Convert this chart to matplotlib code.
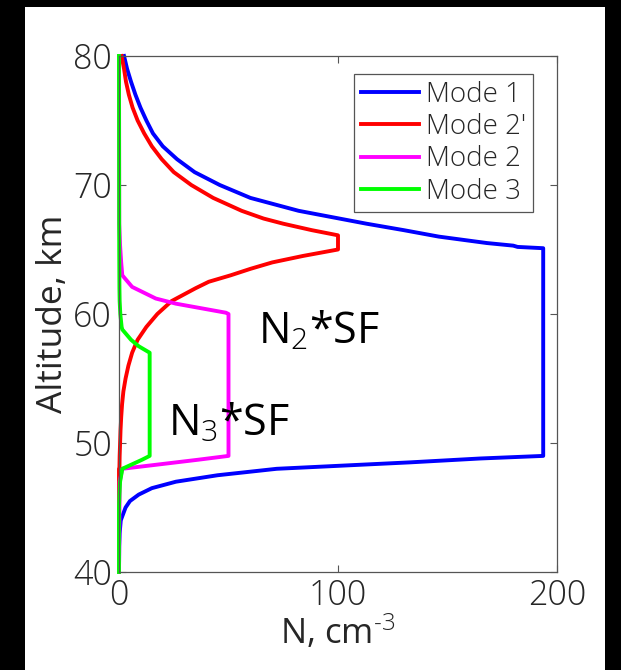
import matplotlib
matplotlib.use('Agg')
import matplotlib.pyplot as plt
from matplotlib.patches import Rectangle

# altitude (km) and concentration (cm^-3) for each mode
alt_m1 = [80, 79, 78, 77, 76, 75, 74, 73, 72, 71, 70, 69, 68, 67, 66.5, 66, 65.5,
          65.3, 65.2, 65.1, 49, 48.8, 48.5, 48, 47.5, 47, 46.5, 46, 45.5, 45, 44,
          43, 42, 40]
n_m1 = [2.3, 3.7, 5.5, 7.5, 9.8, 12.5, 15.5, 20, 26.5, 34.5, 46, 60, 82, 113, 130,
        146, 168, 180, 182, 193.7, 193.7, 165, 133, 72, 45, 26, 15, 9, 5, 3, 0.8,
        0.3, 0.1, 0]

alt_m2p = [80, 79, 78, 77, 76, 75, 74, 73, 72, 71, 70, 69, 68, 67.4, 67, 66.5,
           66.1, 65, 64.5, 64, 63.5, 63, 62.5, 62, 61, 60, 59, 58, 57, 56, 55, 54,
           53, 52, 51, 50, 49, 48.1, 48, 40]
n_m2p = [1.2, 2.3, 3.2, 4.5, 6.2, 8.5, 11.5, 15, 19.5, 25, 33, 43, 56, 66, 75, 88,
         100, 100, 84, 70, 60, 51, 41, 35, 24, 17.5, 12.5, 8.5, 6, 4.3, 3, 2, 1.4,
         1, 0.7, 0.5, 0.3, 0.2, 0, 0]

alt_m2 = [80, 67, 65.3, 64, 63, 62.1, 61.2, 60.8, 60.1, 60, 49, 48.7, 48, 47, 40]
n_m2 = [0, 0.1, 0.5, 1, 1.5, 6, 16.8, 26, 48.8, 50, 50, 36, 1.5, 0.3, 0]

alt_m3 = [80, 65, 62, 61, 60, 59, 58.8, 58.5, 58, 57.5, 57, 49, 48.7, 48, 47, 46,
          45, 40]
n_m3 = [0, 0.1, 0.2, 0.3, 0.6, 1.2, 1.5, 3, 5.5, 9, 14, 14, 10.5, 1.5, 0.5, 0.2,
        0, 0]

labels = ['Mode 1', "Mode 2'", 'Mode 2', 'Mode 3']
colors = ['#0000ff', '#ff0000', '#ff00ff', '#00ff00']

plt.rcParams['font.family'] = ['Open Sans', 'DejaVu Sans']
plt.rcParams['font.weight'] = 'light'
plt.rcParams['mathtext.fontset'] = 'custom'
plt.rcParams['mathtext.rm'] = 'Open Sans:light'
plt.rcParams['mathtext.it'] = 'Open Sans:light'

fig = plt.figure(figsize=(6.21, 6.70), dpi=100, facecolor='black')
# white page behind the axes
fig.patches.append(Rectangle((25 / 621, 0), 580 / 621, 663 / 670,
                             transform=fig.transFigure, facecolor='white',
                             edgecolor='none', zorder=-10))

ax = fig.add_axes([119 / 621, 98 / 670, 438 / 621, 516 / 670])

series = [(n_m1, alt_m1), (n_m2p, alt_m2p), (n_m2, alt_m2), (n_m3, alt_m3)]
for (x, y), lab, col in zip(series, labels, colors):
    ax.plot(x, y, color=col, lw=2.8, label=lab, clip_on=False)

ax.set_xlim(0, 200)
ax.set_ylim(40, 80)
ax.set_xticks([0, 100, 200])
ax.set_yticks([40, 50, 60, 70, 80])
ax.tick_params(direction='in', length=5, width=0.8, color='#555555',
               labelsize=24.5, labelcolor='#262626', top=True, right=True, pad=5)
for s in ax.spines.values():
    s.set_color('#555555')
    s.set_linewidth(0.9)

ax.set_xlabel(r'N, cm$^{\text{-3}}$', fontsize=25, color='#262626', labelpad=0)
ax.set_ylabel('Altitude, km', fontsize=25.5, color='#262626', labelpad=2)

ax.text(63.5, 57.75, r'N$_2$*SF', fontsize=31, fontweight='normal', color='black',
        ha='left', va='baseline')
ax.text(22.4, 50.6, r'N$_3$*SF', fontsize=31, fontweight='normal', color='black',
        ha='left', va='baseline')

leg = ax.legend(loc='upper right', bbox_to_anchor=(0.945, 0.965), borderaxespad=0,
                fontsize=20, handlelength=2.1, labelspacing=0.15, handletextpad=0.25,
                borderpad=0.25, fancybox=False, framealpha=1)
leg.get_frame().set_edgecolor('#555555')
leg.get_frame().set_linewidth(0.9)
for t in leg.get_texts():
    t.set_color('#262626')

fig.savefig('out.png', dpi=100, facecolor=fig.get_facecolor())
